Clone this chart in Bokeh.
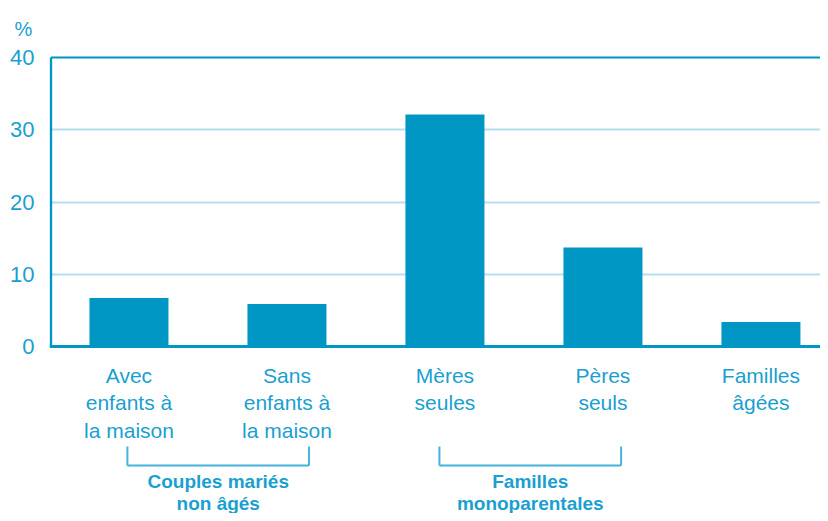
from bokeh.plotting import figure
from bokeh.models import FixedTicker, Range1d, ColumnDataSource
from bokeh.core.properties import value
from bokeh.embed import file_html
from bokeh.resources import INLINE

# ---- data ----
categories = ["Avec\nenfants à\nla maison", "Sans\nenfants à\nla maison",
              "Mères\nseules", "Pères\nseuls", "Familles\nâgées"]
values = [6.7, 5.9, 32.1, 13.7, 3.4]
y_ticks = [0, 10, 20, 30, 40]
grid_ticks = [10, 20, 30]
group_labels = ["Couples mariés\nnon âgés", "Familles\nmonoparentales"]
group_start = [-0.01, 1.965]
group_end = [1.14, 3.115]
unit_label = "%"

BLUE = "#0096c4"
TEXT = "#1a9fd0"
GRID = "#b5dded"
BRACKET = "#45b2d9"
FONT = "Liberation Sans"

x = list(range(len(categories)))
X0, X1 = -0.503, 4.377

p = figure(width=820, height=513, output_backend="svg", toolbar_location=None,
           x_range=Range1d(X0, X1), y_range=Range1d(-23.11, 40.97),
           min_border_left=49, min_border_right=0, min_border_top=50,
           min_border_bottom=0, outline_line_color=None,
           title=unit_label)

p.title.align = "left"
p.title.offset = -35
p.title.text_color = TEXT
p.title.text_font = FONT
p.title.text_font_size = "20px"
p.title.text_font_style = "normal"
p.title.vertical_align = "top"
p.title.standoff = 18

p.xaxis.visible = False
p.xgrid.visible = False
p.ygrid.ticker = FixedTicker(ticks=grid_ticks)
p.ygrid.grid_line_color = GRID
p.ygrid.grid_line_width = 2

ax = p.yaxis[0]
ax.ticker = FixedTicker(ticks=y_ticks)
ax.axis_line_color = None
ax.major_tick_line_color = None
ax.minor_tick_line_color = None
ax.major_tick_out = 0
ax.major_tick_in = 0
ax.minor_tick_out = 0
ax.major_label_text_color = TEXT
ax.major_label_text_font = FONT
ax.major_label_text_font_size = "22px"
ax.major_label_standoff = 15

# bars
src = ColumnDataSource(dict(x=x, top=values, label=categories))
p.vbar(x="x", top="top", bottom=0, width=0.5, source=src, fill_color=BLUE,
       line_color=None)

# axis lines
p.segment(x0=[-0.494], y0=[0], x1=[-0.494], y1=[y_ticks[-1]], line_color=BLUE, line_width=2.5)
p.segment(x0=[-0.494], y0=[y_ticks[-1]], x1=[X1], y1=[y_ticks[-1]], line_color=BLUE, line_width=2)
p.segment(x0=[X0], y0=[0], x1=[X1], y1=[0], line_color=BLUE, line_width=3)

# category labels
p.text(x="x", y=-2.35, text="label", source=src, text_align="center",
       text_baseline="top", text_color=TEXT, text_font=value(FONT),
       text_font_size="21px", text_line_height=1.2)

# group brackets
ya, yb = -13.84, -16.47
gx = [(s + e) / 2 for s, e in zip(group_start, group_end)]
p.segment(x0=group_start, y0=[ya] * 2, x1=group_start, y1=[yb] * 2,
          line_color=BRACKET, line_width=2)
p.segment(x0=group_end, y0=[ya] * 2, x1=group_end, y1=[yb] * 2,
          line_color=BRACKET, line_width=2)
p.segment(x0=group_start, y0=[yb] * 2, x1=group_end, y1=[yb] * 2,
          line_color=BRACKET, line_width=2)
p.text(x=gx, y=[-17.17] * 2, text=group_labels, text_align="center",
       text_baseline="top", text_color=TEXT, text_font=value(FONT),
       text_font_style="bold", text_font_size="19px", text_line_height=1.05)

open("out.html", "w").write(file_html(p, INLINE))
